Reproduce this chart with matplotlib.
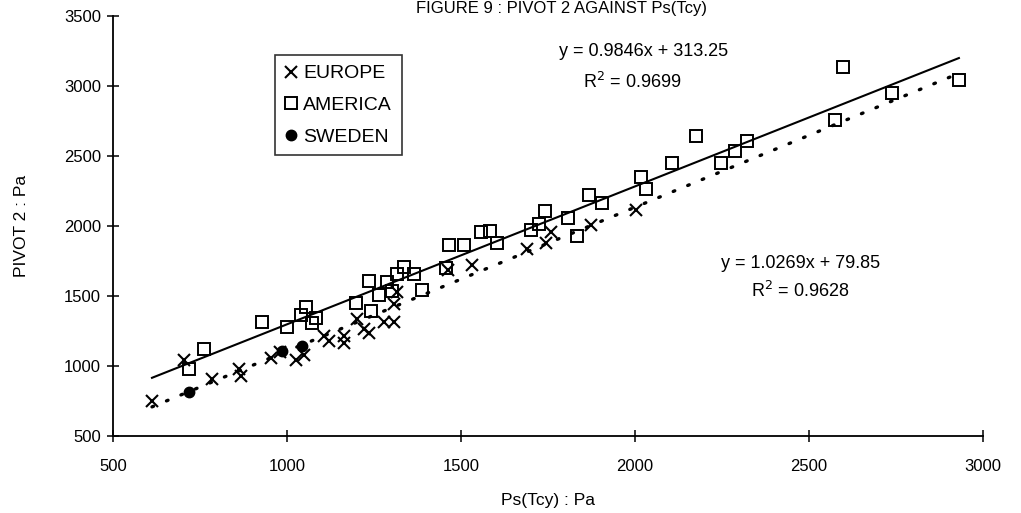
import matplotlib.pyplot as plt
import numpy as np

plt.rcParams['font.family'] = ['Liberation Sans Narrow', 'Liberation Sans', 'DejaVu Sans']

# Ps(Tcy) [Pa] against PIVOT 2 [Pa]
europe_x = [612, 704, 785, 862, 868, 954, 1026, 1049, 980, 1106, 1121, 1164, 1164,
            1201, 1221, 1236, 1279, 1308, 1308, 1316, 1463, 1532, 1690, 1744, 1759,
            1874, 2003]
europe_y = [751, 1040, 909, 977, 927, 1059, 1042, 1076, 1101, 1217, 1180, 1215, 1165,
            1335, 1262, 1234, 1317, 1316, 1445, 1530, 1688, 1722, 1836, 1877, 1954,
            2008, 2116]

america_x = [718, 762, 928, 1000, 1040, 1055, 1083, 1072, 1198, 1236, 1264, 1241,
             1288, 1302, 1316, 1336, 1365, 1388, 1457, 1466, 1509, 1558, 1584, 1604,
             1701, 1724, 1742, 1808, 1834, 1868, 1905, 2017, 2032, 2107, 2176, 2247,
             2288, 2322, 2575, 2598, 2739, 2931]
america_y = [976, 1124, 1317, 1278, 1363, 1419, 1340, 1304, 1449, 1605, 1510, 1390,
             1603, 1538, 1658, 1707, 1656, 1541, 1702, 1866, 1864, 1956, 1962, 1876,
             1972, 2014, 2105, 2060, 1930, 2222, 2163, 2352, 2265, 2448, 2645, 2449,
             2533, 2610, 2757, 3135, 2950, 3043]

sweden_x = [718, 986, 1043]
sweden_y = [812, 1108, 1142]

# trend lines as printed on the figure: slope, intercept, R^2
fit_upper = (0.9846, 313.25, 0.9699)
fit_lower = (1.0269, 79.85, 0.9628)

fig = plt.figure(figsize=(10.21, 5.13), dpi=100)
ax = fig.add_axes([0.1107, 0.150, 0.852, 0.819])

ax.plot(europe_x, europe_y, 'x', color='black', markersize=9, mew=1.5,
        linestyle='none', label='EUROPE')
ax.plot(america_x, america_y, 's', color='black', markersize=8.5, mew=1.4,
        fillstyle='none', linestyle='none', label='AMERICA')
ax.plot(sweden_x, sweden_y, 'o', color='black', markersize=7.5,
        linestyle='none', label='SWEDEN')

all_x = np.array(europe_x + america_x + sweden_x)
xs = np.array([all_x.min(), all_x.max()])
ax.plot(xs, fit_upper[0] * xs + fit_upper[1], color='black', lw=1.5)
ax.plot(xs, fit_lower[0] * xs + fit_lower[1], color='black', lw=2.4,
        linestyle=(0, (0.5, 4.2)), dash_capstyle='round')

ax.set_xlim(500, 3000)
ax.set_ylim(500, 3500)
ax.set_xticks([500, 1000, 1500, 2000, 2500, 3000])
ax.set_yticks([500, 1000, 1500, 2000, 2500, 3000, 3500])
for side in ['top', 'right']:
    ax.spines[side].set_visible(False)
for side in ['left', 'bottom']:
    ax.spines[side].set_linewidth(1.3)
ax.tick_params(direction='inout', length=9, width=1.1, labelsize=12)
ax.tick_params(axis='x', pad=12)
ax.tick_params(axis='y', pad=4)

ax.set_xlabel('Ps(Tcy) : Pa', fontsize=12.5, labelpad=14)
ax.set_ylabel('PIVOT 2 : Pa', fontsize=12.5, labelpad=25)


def fig_text(px, py, s):
    # place text by pixel position on the 1021x513 canvas
    fig.text(px / 1021, 1 - py / 513, s, fontsize=13, ha='center', va='center')


fig_text(644, 52, 'y = %.4fx + %.2f' % fit_upper[:2])
fig_text(632, 82, 'R$^2$ = %.4f' % fit_upper[2])
fig_text(801, 264, 'y = %.4fx + %.2f' % fit_lower[:2])
fig_text(800, 291, 'R$^2$ = %.4f' % fit_lower[2])

leg = ax.legend(loc='upper left', bbox_to_anchor=(275 / 1021, 1 - 55 / 513),
                bbox_transform=fig.transFigure, fontsize=14, frameon=True,
                fancybox=False, edgecolor='black', handlelength=0.6,
                handletextpad=0.35, labelspacing=0.72, borderpad=0.5,
                borderaxespad=0)
leg.get_frame().set_linewidth(1.2)

fig.text(0.55, 0.998, 'FIGURE 9 : PIVOT 2 AGAINST Ps(Tcy)', fontsize=12,
         ha='center', va='top')

fig.savefig('out.png', dpi=100)
